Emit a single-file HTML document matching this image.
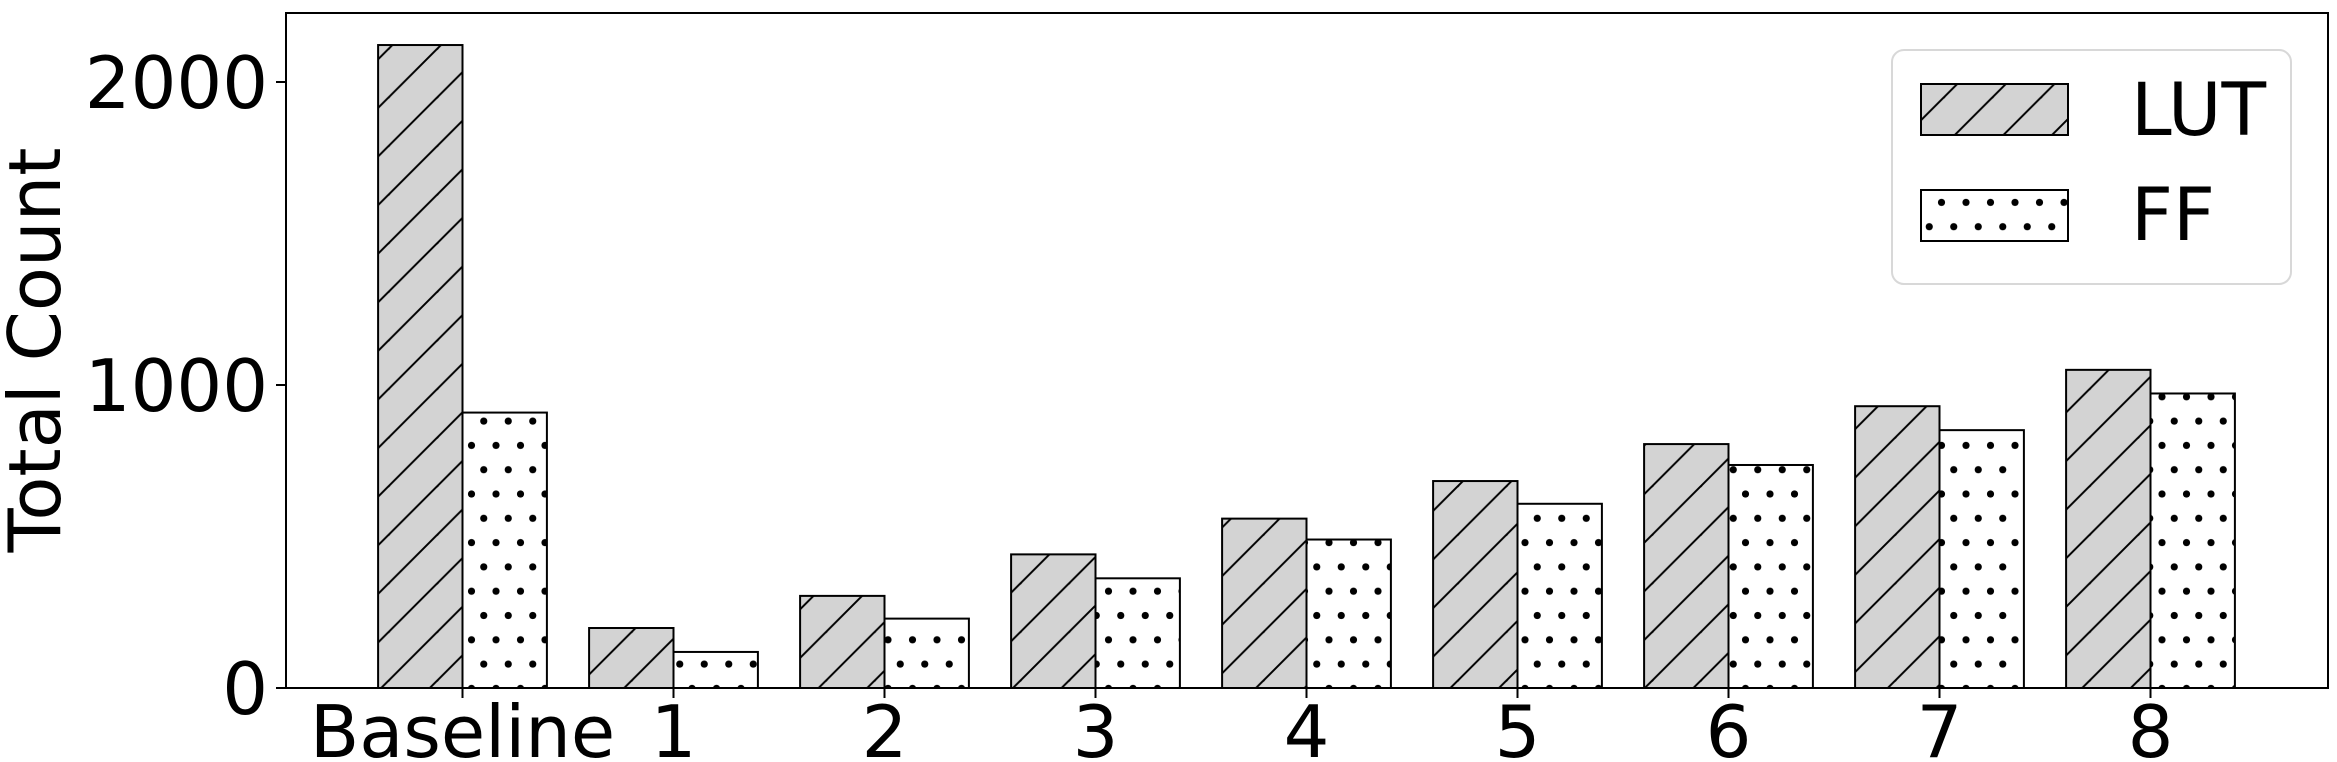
<!DOCTYPE html>
<html><head><meta charset="utf-8"><style>
html,body{margin:0;padding:0;background:#fff;}
svg{display:block;font-family:"DejaVu Sans","Liberation Sans",sans-serif;}
</style></head><body>
<svg id="chart" width="2337" height="762" viewBox="0 0 2337 762" xmlns="http://www.w3.org/2000/svg">
<defs>
<pattern id="hatch" patternUnits="userSpaceOnUse" width="48.6" height="48.6">
<rect width="48.6" height="48.6" fill="#d3d3d3"/>
<path d="M-12,12.15 L12.15,-12 M0,48.6 L48.6,0 M36.45,60.75 L60.75,36.45" stroke="#000" stroke-width="2"/>
</pattern>
<pattern id="dots" patternUnits="userSpaceOnUse" width="24.5" height="48.6" x="6" y="8">
<rect width="24.5" height="48.6" fill="#fff"/>
<circle cx="0" cy="0" r="3.6" fill="#000"/><circle cx="24.5" cy="0" r="3.6" fill="#000"/>
<circle cx="0" cy="48.6" r="3.6" fill="#000"/><circle cx="24.5" cy="48.6" r="3.6" fill="#000"/>
<circle cx="12.25" cy="24.3" r="3.6" fill="#000"/>
</pattern>
</defs>
<g id="bars"></g>
<rect x="286" y="13" width="2042" height="675" fill="none" stroke="#000" stroke-width="2"/>
<g id="axes"></g>
<text transform="translate(60,350) rotate(-90)" text-anchor="middle" font-size="72">Total Count</text>
<g>
<rect x="1892" y="50" width="399" height="234" rx="12" fill="#fff" stroke="#d8d8d8" stroke-width="2"/>
<rect x="1921" y="84" width="147" height="51" fill="url(#hatch)" stroke="#000" stroke-width="2"/>
<text x="2131" y="135" font-size="73">LUT</text>
<rect x="1921" y="190" width="147" height="51" fill="url(#dots)" stroke="#000" stroke-width="2"/>
<text x="2131" y="240" font-size="73">FF</text>
</g>
</svg>
<script>
const categories = ["Baseline","1","2","3","4","5","6","7","8"];
const lutValues = [2122,198,304,441,559,683,805,930,1050];
const ffValues = [909,119,229,362,490,608,736,851,972];
const yTicks = [0,1000,2000];

const NS = "http://www.w3.org/2000/svg";
const y0 = 688, pxPerUnit = 0.303;
const yScale = v => y0 - v * pxPerUnit;
const x0 = 462.5, step = 211, barW = 84.4;
const xScale = i => x0 + i * step;
function mk(tag, attrs, parent){const e=document.createElementNS(NS,tag);for(const k in attrs)e.setAttribute(k,attrs[k]);parent.appendChild(e);return e;}
const bars = document.getElementById('bars');
const axes = document.getElementById('axes');
categories.forEach((c,i)=>{
  const cx = xScale(i);
  const r1 = mk('rect',{x:cx-barW,y:yScale(lutValues[i]),width:barW,height:y0-yScale(lutValues[i]),fill:'url(#hatch)',stroke:'#000','stroke-width':2},bars);
  
  
  const r2 = mk('rect',{x:cx,y:yScale(ffValues[i]),width:barW,height:y0-yScale(ffValues[i]),fill:'url(#dots)',stroke:'#000','stroke-width':2},bars);
  
  
  const t = mk('line',{x1:cx,x2:cx,y1:y0,y2:y0+10,stroke:'#000','stroke-width':2},axes);
  
  
  const l = mk('text',{x:cx,y:757,'text-anchor':'middle','font-size':72},axes);
  l.textContent = c;
  
  
});
yTicks.forEach(v=>{
  const y = yScale(v);
  const t = mk('line',{x1:276,x2:286,y1:y,y2:y,stroke:'#000','stroke-width':2},axes);
  
  
  const l = mk('text',{x:268,y:y+26,'text-anchor':'end','font-size':72},axes);
  l.textContent = v;
  
  
});
</script>
</body></html>
